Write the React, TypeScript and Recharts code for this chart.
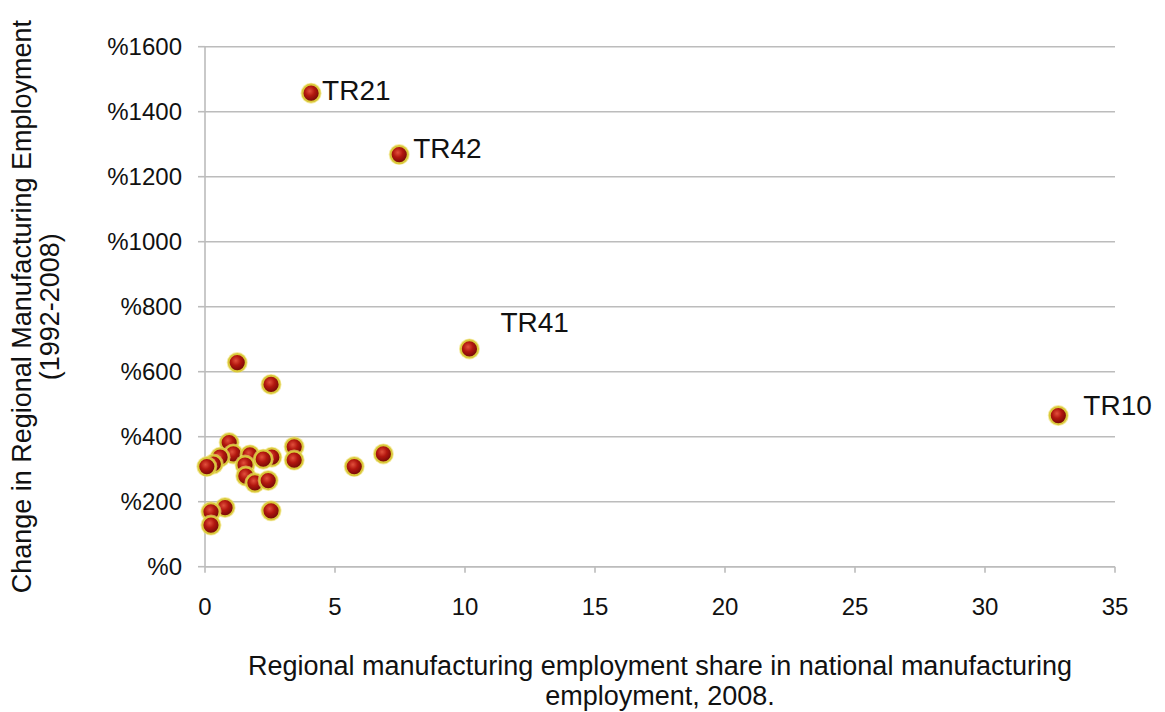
import { ScatterChart, Scatter, XAxis, YAxis, CartesianGrid, Label } from 'recharts';

// Regional manufacturing employment share, 2008 (%)
const shareValues = [
  1.24, 2.54, 0.93, 1.09, 0.58, 0.32, 0.07, 1.73, 1.54, 2.57, 2.24, 3.43, 3.43,
  1.57, 1.92, 2.43, 5.74, 6.86, 0.77, 0.23, 0.23, 2.54, 4.08, 7.47, 10.17, 32.82,
];

// Change in regional manufacturing employment 1992-2008 (%)
const changeValues = [
  628, 561, 382, 347, 337, 316, 308, 344, 313, 337, 331, 369, 328, 279, 258,
  265, 308, 347, 182, 169, 128, 172, 1457, 1268, 670, 465,
];

// Only the outliers carry a region code
const regionNames = [
  '', '', '', '', '', '', '', '', '', '', '', '', '', '', '', '', '', '', '', '',
  '', '', 'TR21', 'TR42', 'TR41', 'TR10',
];

const xTicks = [0, 5, 10, 15, 20, 25, 30, 35];
const yTicks = [0, 200, 400, 600, 800, 1000, 1200, 1400, 1600];

const data = shareValues.map((x, i) => ({ x, y: changeValues[i], name: regionNames[i] }));

// label offset from the point, per region
const labelOffset: Record<string, [number, number]> = {
  TR21: [11, -3],
  TR42: [14, -6],
  TR41: [31, -26],
  TR10: [25, -10],
};

const FONT = '"Liberation Sans", Arial, Helvetica, sans-serif';
const GRID = '#bcbcbc';

function Ball(props: any) {
  const { cx, cy, payload } = props;
  if (cx == null || cy == null) return null;
  const off = payload.name ? labelOffset[payload.name] : null;
  return (
    <g>
      <defs>
        <radialGradient id="ballFill" cx="42%" cy="38%" r="62%">
          <stop offset="0%" stopColor="#e2503c" />
          <stop offset="45%" stopColor="#b2170f" />
          <stop offset="100%" stopColor="#700806" />
        </radialGradient>
      </defs>
      <circle cx={cx} cy={cy} r={10.5} fill="#f0e070" opacity={0.65} />
      <circle cx={cx} cy={cy} r={8.6} fill="url(#ballFill)" stroke="#d9c83a" strokeWidth={2} />
      {off && (
        <text
          x={cx + off[0]}
          y={cy + off[1]}
          dominantBaseline="central"
          fontSize={28}
          fontFamily={FONT}
          fill="#111"
        >
          {payload.name}
        </text>
      )}
    </g>
  );
}

function YTitle(props: any) {
  const vb = props.viewBox;
  const cy = vb.y + vb.height / 2;
  return (
    <g fontFamily={FONT} fontSize={27} fill="#111" textAnchor="middle">
      <text transform={`translate(14, ${cy}) rotate(-90)`} dominantBaseline="central">
        Change in Regional Manufacturing Employment
      </text>
      <text transform={`translate(42, ${cy}) rotate(-90)`} dominantBaseline="central">
        (1992-2008)
      </text>
    </g>
  );
}

function XTitle(props: any) {
  const vb = props.viewBox;
  const cx = vb.x + vb.width / 2;
  return (
    <g fontFamily={FONT} fontSize={27} fill="#111" textAnchor="middle">
      <text x={cx} y={667}>Regional manufacturing employment share in national manufacturing</text>
      <text x={cx} y={697}>employment, 2008.</text>
    </g>
  );
}

export default function App() {
  return (
    <div style={{ width: 1157, height: 704, background: '#fff' }}>
      <ScatterChart
        width={1157}
        height={704}
        margin={{ top: 38.7, right: 50, left: 0, bottom: 0 }}
      >
        <CartesianGrid vertical={false} stroke={GRID} strokeWidth={1.6} />
        <XAxis
          type="number"
          dataKey="x"
          domain={[0, 35]}
          ticks={xTicks}
          interval={0}
          height={145.3}
          stroke={GRID}
          strokeWidth={1.6}
          tickSize={6}
          tickMargin={25}
          tick={{ fill: '#111', fontSize: 24, fontFamily: FONT }}
        >
          <Label content={<XTitle />} />
        </XAxis>
        <YAxis
          type="number"
          dataKey="y"
          domain={[0, 1600]}
          ticks={yTicks}
          interval={0}
          width={197}
          stroke={GRID}
          strokeWidth={1.6}
          tickSize={7}
          tickMargin={16}
          tickFormatter={(v: number) => `%${v}`}
          tick={{ fill: '#111', fontSize: 24, fontFamily: FONT }}
        >
          <Label content={<YTitle />} />
        </YAxis>
        <Scatter data={data} shape={<Ball />} isAnimationActive={false} />
      </ScatterChart>
    </div>
  );
}
